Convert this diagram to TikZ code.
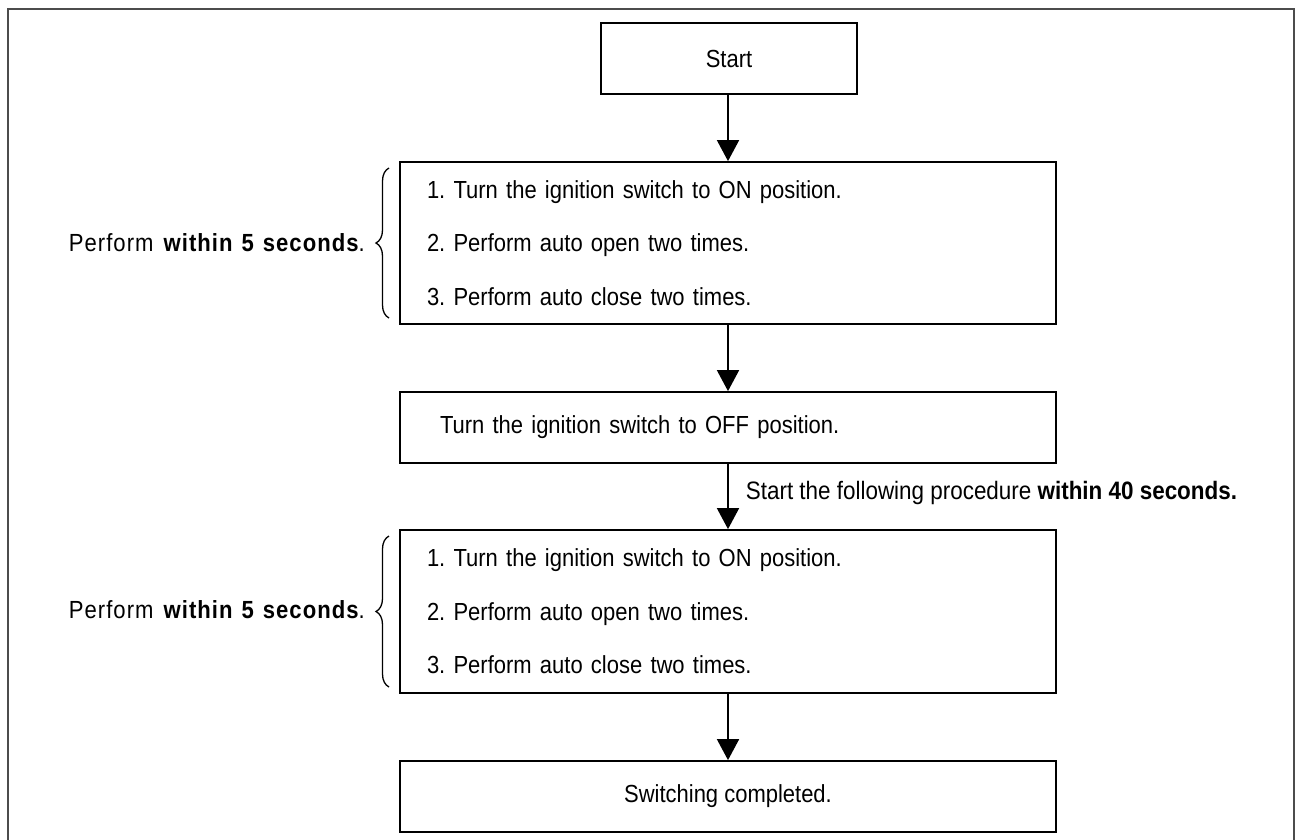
\documentclass[tikz,border=0pt]{standalone}
\usepackage{fontspec}
\setmainfont{Liberation Sans}[FakeStretch=0.89]
\newfontfamily\spacedfont{Liberation Sans}[FakeStretch=0.89,LetterSpace=4.2]
\newcommand{\lblfont}{\fontsize{24.8}{28}\spacedfont\spaceskip=9pt plus 1pt\relax}
\usetikzlibrary{arrows.meta,decorations.pathreplacing}
\frenchspacing
\begin{document}
\begin{tikzpicture}[x=1pt,y=-1pt,
  box/.style={draw=black,line width=1.8pt,minimum width=656pt,inner sep=0pt,
    font=\fontsize{24.7}{53.5}\selectfont},
  flow/.style={line width=1.8pt,-{Triangle[width=22pt,length=21pt]}},
  lbl/.style={font=\fontsize{25.2}{28}\selectfont,inner sep=0pt},
  brc/.style={line width=1.3pt,decorate,decoration={brace,amplitude=13pt}}]
\useasboundingbox (0,0) rectangle (1297,839);
\draw[line width=2pt,color=black!70] (8,845) -- (8,9) -- (1294,9) -- (1294,845);
\node[box,minimum width=256pt,minimum height=71pt] (start) at (729,58.5) {Start};
\node[box,minimum height=162pt,text width=602pt,align=left,inner xsep=27pt] (s1) at (728,243)
  {1. Turn the ignition switch to ON position.\\2. Perform auto open two times.\\3. Perform auto close two times.};
\node[box,minimum height=71pt,text width=576pt,align=left,inner xsep=40pt] (off) at (728,427.5)
  {Turn the ignition switch to OFF position.};
\node[box,minimum height=163pt,text width=602pt,align=left,inner xsep=27pt] (s2) at (728,611.5)
  {1. Turn the ignition switch to ON position.\\2. Perform auto open two times.\\3. Perform auto close two times.};
\node[box,minimum height=71pt] (done) at (728,796.5) {Switching completed.};
\draw[flow] (start.south -| s1.north) -- (s1.north);
\draw[flow] (s1.south) -- (off.north);
\draw[flow] (off.south) -- (s2.north) node[lbl,pos=0.45,anchor=west,xshift=17pt]
  {Start the following procedure \textbf{within 40 seconds.}};
\draw[flow] (s2.south) -- (done.north);
\coordinate (b1a) at (389,318);
\coordinate (b1b) at (389,168);
\coordinate (b2a) at (389,687);
\coordinate (b2b) at (389,536);
\draw[brc] (b1a) -- (b1b);
\draw[brc] (b2a) -- (b2b);
\node[lbl,anchor=east] (p1) at (365,243) {\lblfont Perform \textbf{within 5 seconds}.};
\node[lbl,anchor=east] (p2) at (365,610) {\lblfont Perform \textbf{within 5 seconds}.};
\end{tikzpicture}
\end{document}
